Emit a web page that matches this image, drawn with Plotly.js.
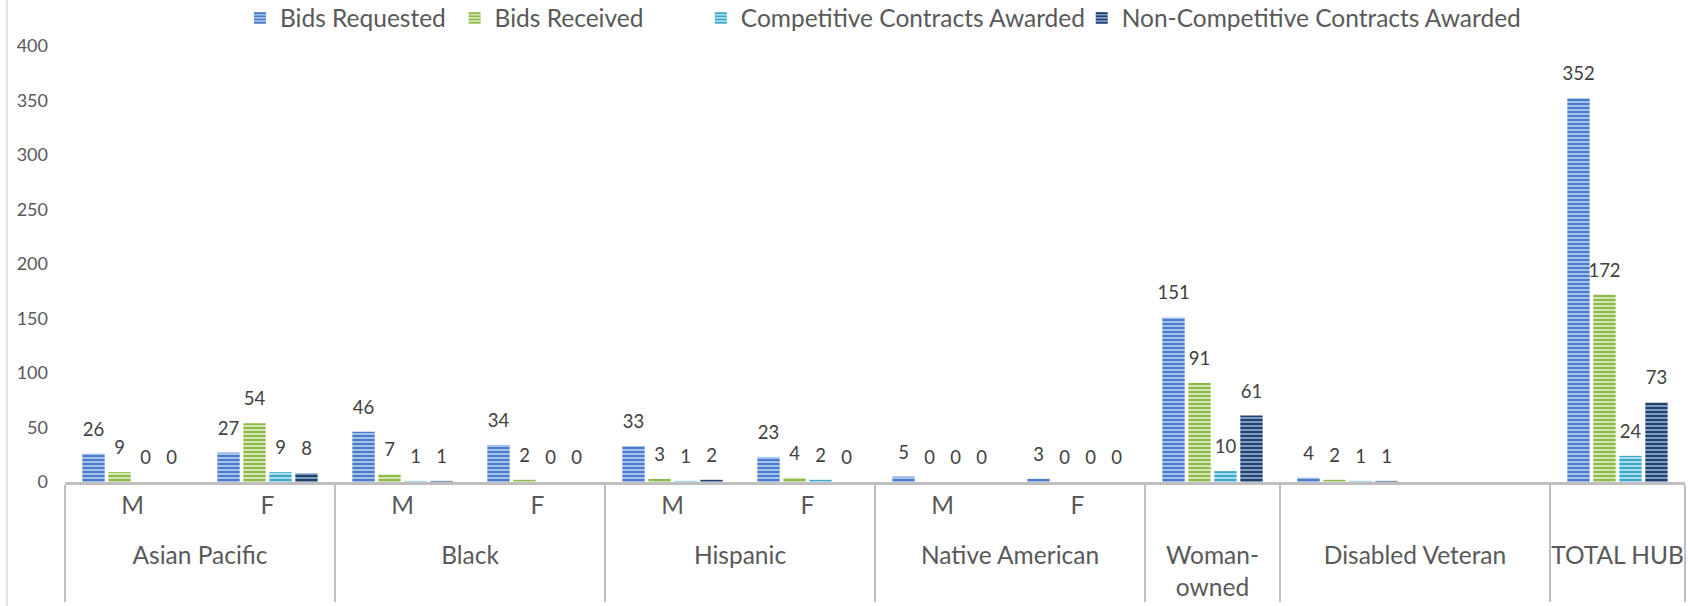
<!DOCTYPE html>
<html>
<head>
<meta charset="utf-8">
<script src="https://cdn.plot.ly/plotly-3.0.1.min.js"></script>
<style>
  html, body { margin: 0; padding: 0; background: #ffffff; }
  #chart { width: 1688px; height: 606px; }
</style>
</head>
<body>
<div id="chart"></div>
<script>
// ---- data ----
var groupNames = ['Asian Pacific', 'Asian Pacific', 'Black', 'Black', 'Hispanic', 'Hispanic',
                  'Native American', 'Native American', 'Woman-<br>owned', 'Disabled Veteran',
                  'Disabled Veteran', 'TOTAL HUB'];
var subNames = ['M', 'F', 'M', 'F', 'M', 'F', 'M', 'F', '', '', '', ''];

var seriesNames = ['Bids Requested', 'Bids Received', 'Competitive Contracts Awarded',
                   'Non-Competitive Contracts Awarded'];
var bidsRequested  = [26, 27, 46, 34, 33, 23, 5, 3, 151, 4, null, 352];
var bidsReceived   = [9, 54, 7, 2, 3, 4, 0, 0, 91, 2, null, 172];
var competitive    = [0, 9, 1, 0, 1, 2, 0, 0, 10, 1, null, 24];
var nonCompetitive = [0, 8, 1, 0, 2, 0, 0, 0, 61, 1, null, 73];

var yTickVals = [0, 50, 100, 150, 200, 250, 300, 350, 400];

// ---- label helpers (invisible padding only affects spacing) ----
var NB = '\u00a0';
function pad(size) { return '<span style="font-size:' + size + 'px">' + NB + '</span>'; }
// group row: every group label gets two lines so first lines line up
var groupLabels = groupNames.map(function (g) {
  return g.indexOf('<br>') >= 0 ? g : g + '<br>' + NB;
});
// inner row: distinct keys for empty slots, tall invisible padding sets row spacing
var blankCount = 0;
var subLabels = subNames.map(function (s) {
  if (s === '') { blankCount += 1; return new Array(blankCount + 1).join(NB); }
  return pad(40) + s + pad(40);
});

// ---- styles ----
var FONT = 'Lato, "Open Sans", sans-serif';
var styles = [
  {bg: '#A3C1EC', fg: '#4A7CC9'},
  {bg: '#D3E6B0', fg: '#8EB94C'},
  {bg: '#A9DDEC', fg: '#3EA8C8'},
  {bg: '#7F9BC2', fg: '#22426E'}
];
var seriesValues = [bidsRequested, bidsReceived, competitive, nonCompetitive];
var legendIds = ['legend', 'legend2', 'legend3', 'legend4'];
var legendX = [0.1080, 0.2405, 0.3925, 0.6276];

var traces = seriesValues.map(function (vals, i) {
  return {
    type: 'bar',
    name: seriesNames[i],
    legend: legendIds[i],
    x: [groupLabels, subLabels],
    y: vals,
    text: vals.map(function (v) { return v === null ? '' : pad(72) + String(v) + pad(72); }),
    texttemplate: '%{text}',
    textposition: 'outside',
    constraintext: 'none',
    cliponaxis: false,
    textfont: {family: FONT, size: 18.5, color: '#404040'},
    marker: {
      color: styles[i].bg,
      line: {width: 0},
      pattern: {shape: '-', fgcolor: styles[i].fg, bgcolor: styles[i].bg,
                size: 4, solidity: 0.5, fillmode: 'replace'}
    },
    hoverinfo: 'skip'
  };
});

var layout = {
  width: 1688,
  height: 606,
  paper_bgcolor: '#ffffff',
  plot_bgcolor: '#ffffff',
  margin: {l: 65, r: 3, t: 46, b: 124, pad: 0, autoexpand: false},
  barmode: 'group',
  bargap: 0.23,
  bargroupgap: 0.14,
  font: {family: FONT, color: '#595959'},
  showlegend: true,
  xaxis: {
    type: 'multicategory',
    showline: true,
    linecolor: '#BFBFBF',
    linewidth: 2.5,
    showgrid: false,
    zeroline: false,
    showdividers: true,
    dividercolor: '#BFBFBF',
    dividerwidth: 2.5,
    ticks: 'outside',
    ticklen: 24,
    tickcolor: 'rgba(0,0,0,0)',
    tickangle: 0,
    tickfont: {family: FONT, size: 24.5, color: '#595959'},
    automargin: false,
    fixedrange: true
  },
  yaxis: {
    range: [0, 400],
    tickvals: yTickVals,
    ticktext: yTickVals.map(String),
    showgrid: false,
    zeroline: false,
    showline: false,
    ticks: '',
    ticklabelstandoff: 16,
    tickfont: {family: FONT, size: 18, color: '#595959'},
    automargin: false,
    fixedrange: true
  },
  shapes: [{
    type: 'line', xref: 'paper', yref: 'paper',
    x0: -58 / 1620, x1: -58 / 1620, y0: -124 / 436, y1: 1 + 46 / 436,
    line: {color: '#D9D9D9', width: 1.5}
  }]
};

legendIds.forEach(function (id, i) {
  layout[id] = {
    orientation: 'h',
    x: legendX[i], xanchor: 'left',
    y: 1 + (46 - 18) / 436, yanchor: 'middle',
    font: {family: FONT, size: 24.5, color: '#595959'},
    bgcolor: 'rgba(0,0,0,0)',
    borderwidth: 0
  };
});

Plotly.newPlot('chart', traces, layout, {staticPlot: true, displayModeBar: false});
</script>
</body>
</html>
